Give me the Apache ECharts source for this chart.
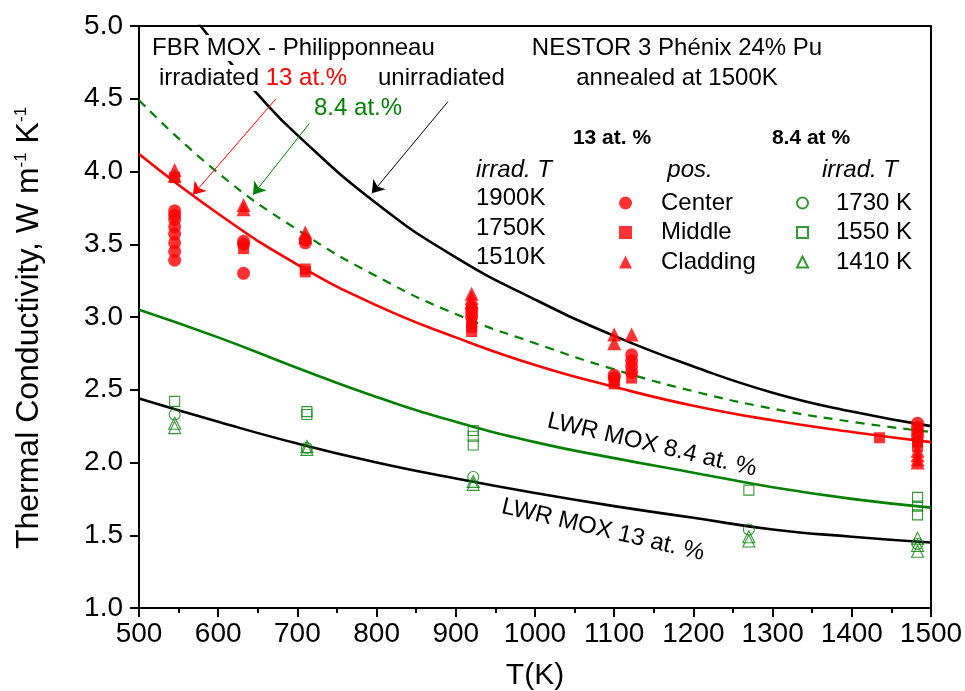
<!DOCTYPE html>
<html>
<head>
<meta charset="utf-8">
<script src="https://cdn.jsdelivr.net/npm/echarts@6/dist/echarts.min.js"></script>
<style>
  html, body { margin: 0; padding: 0; background: #fff; }
  #chart { width: 965px; height: 691px; }
</style>
</head>
<body>
<div id="chart"></div>
<script>
// Temperature grid (K) for the fitted conductivity curves
const tempGrid = [500, 600, 700, 800, 900, 1000, 1100, 1200, 1300, 1400, 1500];
// FBR MOX (Philipponneau) irradiated, 13 at.%
const fbr13Irradiated = [4.12, 3.71, 3.36, 3.08, 2.86, 2.67, 2.52, 2.39, 2.29, 2.21, 2.14];
// FBR MOX (Philipponneau) irradiated, 8.4 at.%
const fbr84Irradiated = [4.49, 3.99, 3.60, 3.28, 3.02, 2.82, 2.64, 2.49, 2.37, 2.28, 2.21];
// FBR MOX unirradiated
const unirrTemps = [575, 600, 650, 700, 800, 900, 1000, 1100, 1200, 1300, 1400, 1500];
const fbrUnirradiated = [5.02, 4.85, 4.53, 4.25, 3.78, 3.41, 3.12, 2.87, 2.66, 2.48, 2.35, 2.25];
// LWR MOX fits
const lwr84 = [3.05, 2.86, 2.65, 2.45, 2.28, 2.14, 2.03, 1.93, 1.83, 1.75, 1.69];
const lwr13 = [2.44, 2.28, 2.13, 2.00, 1.89, 1.79, 1.70, 1.62, 1.54, 1.49, 1.45];

// NESTOR 3, 13 at.% measurements [T, k]
const center13 = [[545,3.73],[545,3.70],[545,3.67],[545,3.62],[545,3.57],[545,3.51],[545,3.45],[545,3.39],
  [632,3.52],[632,3.50],[632,3.30],[710,3.53],[710,3.51],[920,3.06],[920,3.03],[920,3.00],
  [1100,2.60],[1100,2.58],[1122,2.74],[1122,2.70],[1122,2.66],[1122,2.62],
  [1483,2.27],[1483,2.24],[1483,2.21],[1483,2.18]];
const middle13 = [[545,3.96],[632,3.47],[710,3.33],[710,3.31],[920,2.96],[920,2.93],[920,2.90],
  [1100,2.56],[1100,2.54],[1122,2.58],[1435,2.17],[1483,2.14],[1483,2.11]];
const cladding13 = [[545,4.01],[545,3.97],[632,3.77],[632,3.74],[710,3.58],[710,3.55],
  [920,3.16],[920,3.13],[920,3.10],[1100,2.88],[1100,2.82],[1122,2.88],
  [1483,2.08],[1483,2.05],[1483,2.02],[1483,2.00]];
// NESTOR 3, 8.4 at.% measurements [T, k]
const irr1730 = [[545,2.33],[712,2.10],[922,1.90],[1270,1.54],[1483,1.44]];
const irr1550 = [[545,2.42],[712,2.35],[712,2.33],[922,2.22],[922,2.18],[922,2.12],
  [1270,1.81],[1483,1.76],[1483,1.70],[1483,1.64]];
const irr1410 = [[545,2.27],[545,2.24],[712,2.11],[712,2.09],[922,1.87],[922,1.85],
  [1270,1.49],[1270,1.46],[1483,1.48],[1483,1.43],[1483,1.39]];

const RED = '#ff0000';
const GREEN = '#008000';
const FONT = '"Liberation Sans", Arial, sans-serif';

const zip = (xs, ys) => xs.map((x, i) => [x, ys[i]]);

function curve(name, xs, ys, color, type, width, arrow) {
  const s = {
    name, type: 'line', data: zip(xs, ys), smooth: 0.5,
    showSymbol: false, symbol: 'none',
    lineStyle: { color, width, type }, z: 3, silent: true, legendHoverLink: false
  };
  if (arrow) {
    s.markLine = {
      silent: true, symbol: ['none', 'arrow'], symbolSize: 12, animation: false,
      label: { show: false },
      lineStyle: { color, width: 1, type: 'solid' },
      emphasis: { disabled: true },
      data: [[{ coord: arrow[0] }, { coord: arrow[1] }]]
    };
  }
  return s;
}

function points(name, data, symbol, size, filled, color) {
  return {
    name, type: 'scatter', data, symbol, symbolSize: size, z: 5,
    itemStyle: filled ? { color } : { color: 'rgba(255,255,255,0)', borderColor: color, borderWidth: 1.1 }
  };
}

function label(text, x, y, opts) {
  return {
    type: 'text', x, y, z: 100,
    style: Object.assign({
      text, fill: '#000', fontSize: 24, fontFamily: FONT,
      align: 'left', verticalAlign: 'middle', textAlign: 'left', textVerticalAlign: 'middle'
    }, opts || {})
  };
}

const chart = echarts.init(document.getElementById('chart'), null, { renderer: 'canvas' });

chart.setOption({
  animation: false,
  backgroundColor: '#fff',
  grid: {
    left: 139, right: 34, top: 26, bottom: 83, outerBoundsMode: 'none', containLabel: false,
    show: true, borderColor: '#000', borderWidth: 2
  },
  xAxis: {
    type: 'value', min: 500, max: 1500, interval: 100,
    axisLine: { lineStyle: { color: '#000', width: 2 } },
    axisTick: { length: 9, lineStyle: { color: '#000', width: 2 } },
    minorTick: { show: true, splitNumber: 2, length: 5, lineStyle: { color: '#000', width: 2 } },
    splitLine: { show: false },
    axisLabel: { color: '#000', fontSize: 28, fontFamily: FONT, margin: 12, formatter: v => String(v) },
    name: 'T(K)', nameLocation: 'middle', nameGap: 53,
    nameTextStyle: { color: '#000', fontSize: 30, fontFamily: FONT }
  },
  yAxis: {
    type: 'value', min: 1, max: 5, interval: 0.5,
    axisLine: { lineStyle: { color: '#000', width: 2 } },
    axisTick: { length: 9, lineStyle: { color: '#000', width: 2 } },
    splitLine: { show: false },
    axisLabel: { color: '#000', fontSize: 28, fontFamily: FONT, margin: 16, formatter: v => v.toFixed(1) },
    name: 'Thermal Conductivity, W m{sup|-1} K{sup|-1}', nameLocation: 'middle', nameGap: 94,
    nameTextStyle: {
      color: '#000', fontSize: 32, fontFamily: FONT, padding: [0, 22, 0, 0],
      rich: { sup: { fontSize: 17, fontFamily: FONT, color: '#000', padding: [0, 0, 15, 0] } }
    }
  },
  legend: [
    {
      data: [{ name: 'Center', icon: 'circle' }, { name: 'Middle', icon: 'rect' }, { name: 'Cladding', icon: 'triangle' }],
      orient: 'vertical', left: 614, top: 186, itemWidth: 13, itemHeight: 13, itemGap: 5.5,
      selectedMode: false,
      textStyle: { color: '#000', fontSize: 24, fontFamily: FONT, lineHeight: 24, padding: [0, 0, 0, 24] }
    },
    {
      data: [{ name: '1730 K', icon: 'circle' }, { name: '1550 K', icon: 'rect' }, { name: '1410 K', icon: 'triangle' }],
      orient: 'vertical', left: 791, top: 186, itemWidth: 11, itemHeight: 11, itemGap: 5.5,
      selectedMode: false,
      textStyle: { color: '#000', fontSize: 24, fontFamily: FONT, lineHeight: 24, padding: [0, 0, 0, 23] }
    }
  ],
  series: [
    curve('LWR MOX 13 at.%', tempGrid, lwr13, '#000', 'solid', 2.6),
    curve('LWR MOX 8.4 at.%', tempGrid, lwr84, GREEN, 'solid', 2.6),
    curve('FBR MOX unirradiated', unirrTemps, fbrUnirradiated, '#000', 'solid', 2.6, [[890, 4.48], [794, 3.85]]),
    curve('FBR MOX irradiated 8.4 at.%', tempGrid, fbr84Irradiated, GREEN, [9, 7], 2.2, [[715, 4.33], [644, 3.84]]),
    curve('FBR MOX irradiated 13 at.%', tempGrid, fbr13Irradiated, RED, 'solid', 2.6, [[673, 4.50], [568, 3.84]]),
    points('1730 K', irr1730, 'circle', 11, false, GREEN),
    points('1550 K', irr1550, 'rect', 10, false, GREEN),
    points('1410 K', irr1410, 'triangle', 12, false, GREEN),
    points('Center', center13, 'circle', 13, true, RED),
    points('Middle', middle13, 'rect', 11, true, RED),
    points('Cladding', cladding13, 'triangle', 14, true, RED)
  ],
  graphic: [
    label('FBR MOX - Philipponneau', 150, 48, { backgroundColor: '#fff', padding: [1, 2, 1, 2] }),
    label('{k|irradiated }{r|13 at.%}', 157, 78, {
      backgroundColor: '#fff', padding: [1, 2, 1, 2],
      rich: { k: { fill: '#000', fontSize: 24, fontFamily: FONT }, r: { fill: RED, fontSize: 24, fontFamily: FONT } }
    }),
    label('unirradiated', 376, 78, { backgroundColor: '#fff', padding: [1, 2, 1, 2] }),
    label('8.4 at.%', 290, 108, { fill: GREEN, backgroundColor: '#fff', padding: [1, 2, 1, 24] }),
    label('NESTOR 3 Phénix 24% Pu', 677, 48, { align: 'center', textAlign: 'center' }),
    label('annealed at 1500K', 677, 78, { align: 'center', textAlign: 'center' }),
    label('13 at. %', 612, 138, { align: 'center', textAlign: 'center', fontWeight: 'bold', fontSize: 21 }),
    label('8.4 at %', 811, 138, { align: 'center', textAlign: 'center', fontWeight: 'bold', fontSize: 21 }),
    label('irrad. T', 476, 170, { fontStyle: 'italic' }),
    label('pos.', 690, 170, { fontStyle: 'italic', align: 'center', textAlign: 'center' }),
    label('irrad. T', 822, 170, { fontStyle: 'italic' }),
    label('1900K', 476, 198),
    label('1750K', 476, 228),
    label('1510K', 476, 257),
    Object.assign(label('LWR MOX 8.4 at. %', 652, 445, { align: 'center', textAlign: 'center' }), { rotation: -0.23 }),
    Object.assign(label('LWR MOX 13 at. %', 603, 530, { align: 'center', textAlign: 'center' }), { rotation: -0.23 })
  ]
});
</script>
</body>
</html>
